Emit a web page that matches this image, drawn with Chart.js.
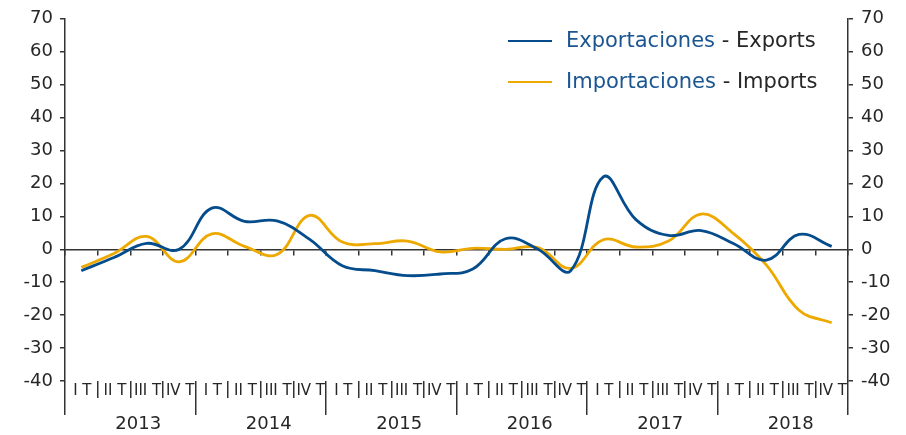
<!DOCTYPE html>
<html>
<head>
<meta charset="utf-8">
<script src="https://cdn.jsdelivr.net/npm/chart.js@4.4.0/dist/chart.umd.min.js"></script>
<style>
html,body{margin:0;padding:0;background:#fff;}
#wrap{position:relative;width:906px;height:435px;}
#legend{position:absolute;left:508px;top:20px;font-family:"DejaVu Sans",sans-serif;font-size:21px;line-height:1;}
.item{display:flex;align-items:center;height:41px;white-space:nowrap;}
.sw{width:44px;height:0;border-top:2.5px solid;margin-right:14px;}
.es{color:#1B5691;}
.en{color:#262626;}
</style>
</head>
<body>
<div id="wrap">
<canvas id="c"></canvas>
<div id="legend">
  <div class="item"><span class="sw" style="border-color:#054C8C"></span><span class="es">Exportaciones</span><span class="en">&nbsp;- Exports</span></div>
  <div class="item"><span class="sw" style="border-color:#EDA900"></span><span class="es">Importaciones</span><span class="en">&nbsp;- Imports</span></div>
</div>
</div>
<script>
const years = ['2013','2014','2015','2016','2017','2018'];
const quarterNames = ['I T','II T','III T','IV T'];
const categories = years.flatMap(y => quarterNames.map(q => q + ' ' + y));
const quarterTickLabels = years.flatMap(() => quarterNames);
const exportsValues = [-6.5,-2.5,1.8,0,12.5,8.5,8.6,3,-5,-6.5,-8,-7.5,-6,3.2,0,-6.5,22,9,4.2,5.7,1.7,-3.3,4.5,0.9];
const importsValues = [-5.5,-1.3,3.9,-3.8,4.7,0.9,-1.6,10.3,2.2,1.7,2.5,-0.8,0.3,0,0.5,-5.8,2.9,0.7,2.5,10.7,4.7,-4.8,-18.5,-22.3];
const yMin = -40, yMax = 70, yStep = 10;

Chart.defaults.font.family = '"DejaVu Sans", sans-serif';
const axisColor = '#333333';
const textColor = '#262626';

new Chart(document.getElementById('c'), {
  type: 'line',
  data: {
    labels: categories,
    datasets: [
      {label:'Exportaciones - Exports', data: exportsValues, borderColor:'#054C8C', borderWidth:2.8, pointRadius:0, tension:0.4, fill:false, xAxisID:'x', yAxisID:'y'},
      {label:'Importaciones - Imports', data: importsValues, borderColor:'#EDA900', borderWidth:2.8, pointRadius:0, tension:0.4, fill:false, xAxisID:'x', yAxisID:'y'}
    ]
  },
  options: {
    responsive: true,
    maintainAspectRatio: false,
    animation: false,
    layout: {padding: {top: 17, left: 0, right: 0, bottom: 0}},
    plugins: {legend: {display: false}, tooltip: {enabled: false}},
    scales: {
      x: {
        type: 'category', position: {y: 0}, offset: true,
        grid: {offset: true, drawOnChartArea: false, tickLength: 5, color: axisColor, lineWidth: 1.5},
        border: {display: true, color: axisColor, width: 1.5},
        ticks: {display: false}
      },
      x2: {
        type: 'category', labels: quarterTickLabels, position: 'bottom', offset: true, weight: 1,
        grid: {offset: true, drawOnChartArea: false, tickLength: 17, color: axisColor, lineWidth: 1.5},
        border: {display: false},
        ticks: {padding: -16, font: {size: 15}, color: textColor, maxRotation: 0, minRotation: 0, autoSkip: false, labelOffset: 1},
        afterFit(s) { s.height = 17; }
      },
      x3: {
        type: 'category', labels: years, position: 'bottom', offset: true, weight: 2,
        grid: {offset: true, drawOnChartArea: false, tickLength: 17, color: axisColor, lineWidth: 1.5},
        border: {display: false},
        ticks: {padding: -1, font: {size: 18}, color: textColor, maxRotation: 0, minRotation: 0, autoSkip: false, labelOffset: 8},
        afterFit(s) { s.height = 37; }
      },
      y: {
        position: 'left', min: yMin, max: yMax,
        ticks: {stepSize: yStep, padding: 7, font: {size: 18}, color: textColor},
        grid: {drawOnChartArea: false, tickLength: 5, color: axisColor, lineWidth: 1.5},
        border: {display: true, color: axisColor, width: 1.5},
        afterFit(s) { s.width = 65; }
      },
      y2: {
        position: 'right', min: yMin, max: yMax,
        ticks: {stepSize: yStep, padding: 8, font: {size: 18}, color: textColor},
        grid: {drawOnChartArea: false, tickLength: 5, color: axisColor, lineWidth: 1.5},
        border: {display: true, color: axisColor, width: 1.5},
        afterFit(s) { s.width = 58; }
      }
    }
  }
});
</script>
</body>
</html>
